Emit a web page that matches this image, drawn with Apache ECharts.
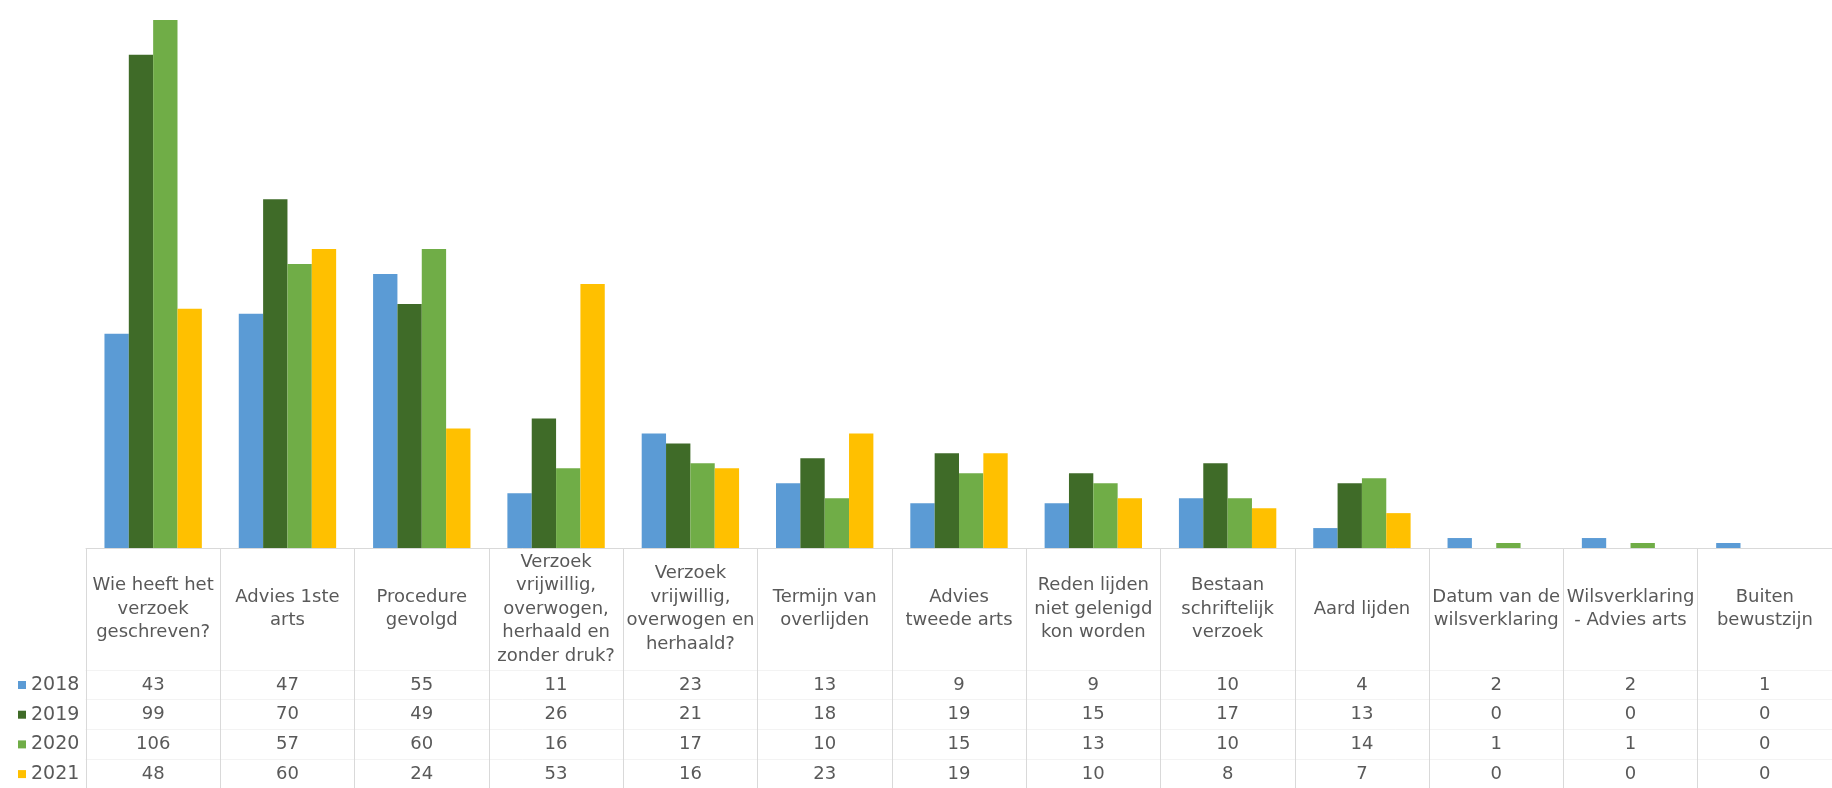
<!DOCTYPE html>
<html>
<head>
<meta charset="utf-8">
<script src="https://cdn.jsdelivr.net/npm/echarts@6/dist/echarts.min.js"></script>
<style>
  html, body { margin: 0; padding: 0; background: #ffffff; }
  #chart { width: 1832px; height: 788px; }
</style>
</head>
<body>
<div id="chart"></div>
<script>
// Toetsingscriteria per jaar
const categories = [
  'Wie heeft het\nverzoek\ngeschreven?',
  'Advies 1ste\narts',
  'Procedure\ngevolgd',
  'Verzoek\nvrijwillig,\noverwogen,\nherhaald en\nzonder druk?',
  'Verzoek\nvrijwillig,\noverwogen en\nherhaald?',
  'Termijn van\noverlijden',
  'Advies\ntweede arts',
  'Reden lijden\nniet gelenigd\nkon worden',
  'Bestaan\nschriftelijk\nverzoek',
  'Aard lijden',
  'Datum van de\nwilsverklaring',
  'Wilsverklaring\n- Advies arts',
  'Buiten\nbewustzijn'
];
const years = ['2018', '2019', '2020', '2021'];
const values2018 = [43, 47, 55, 11, 23, 13, 9, 9, 10, 4, 2, 2, 1];
const values2019 = [99, 70, 49, 26, 21, 18, 19, 15, 17, 13, 0, 0, 0];
const values2020 = [106, 57, 60, 16, 17, 10, 15, 13, 10, 14, 1, 1, 0];
const values2021 = [48, 60, 24, 53, 16, 23, 19, 10, 8, 7, 0, 0, 0];
const colors = ['#5B9BD5', '#3F6B28', '#70AD47', '#FFC000'];

const seriesValues = [values2018, values2019, values2020, values2021];
const FONT = 'DejaVu Sans';
const TEXT = '#595959';
const LINE = '#d9d9d9';

// Main category axis: labels under the bars, ticks extended down as table column borders
const xAxes = [{
  type: 'category',
  gridIndex: 0,
  position: 'bottom',
  data: categories,
  axisLine: { show: true, onZero: false, lineStyle: { color: LINE, width: 1 } },
  axisTick: { show: true, interval: 0, length: 240, lineStyle: { color: LINE, width: 1 } },
  axisLabel: {
    interval: 0,
    margin: 61,
    verticalAlign: 'middle',
    fontFamily: FONT,
    fontSize: 18,
    lineHeight: 23.5,
    color: TEXT,
    align: 'center'
  }
}];

// Data table rows: one extra category axis per year, each showing that year's values
const rowTop = [122, 151.7, 181.4, 211.1];
seriesValues.forEach((vals, r) => {
  xAxes.push({
    type: 'category',
    gridIndex: 0,
    position: 'bottom',
    offset: rowTop[r],
    data: categories,
    axisLine: { show: true, onZero: false, lineStyle: { color: '#f3f3f3', width: 1 } },
    axisTick: { show: false },
    axisLabel: {
      interval: 0,
      margin: 15,
      verticalAlign: 'middle',
      fontFamily: FONT,
      fontSize: 18,
      color: TEXT,
      formatter: (v, i) => String(vals[i])
    }
  });
});

const chart = echarts.init(document.getElementById('chart'), null, { renderer: 'canvas' });
chart.setOption({
  backgroundColor: '#ffffff',
  animation: false,
  grid: { left: 86, right: -13, top: -4, bottom: 240, containLabel: false },
  legend: {
    data: years,
    orient: 'vertical',
    left: 18,
    top: 675,
    padding: 0,
    itemWidth: 8,
    itemHeight: 8,
    itemGap: 9.7,
    icon: 'rect',
    selectedMode: false,
    textStyle: { fontFamily: FONT, fontSize: 19, lineHeight: 20, color: TEXT }
  },
  xAxis: xAxes,
  yAxis: {
    type: 'value',
    min: 0,
    max: 110,
    show: false,
    splitLine: { show: false }
  },
  series: years.map((y, i) => ({
    name: y,
    type: 'bar',
    xAxisIndex: 0,
    data: seriesValues[i],
    barGap: '0%',
    barCategoryGap: '27.5%',
    itemStyle: { color: colors[i] }
  }))
});
</script>
</body>
</html>
